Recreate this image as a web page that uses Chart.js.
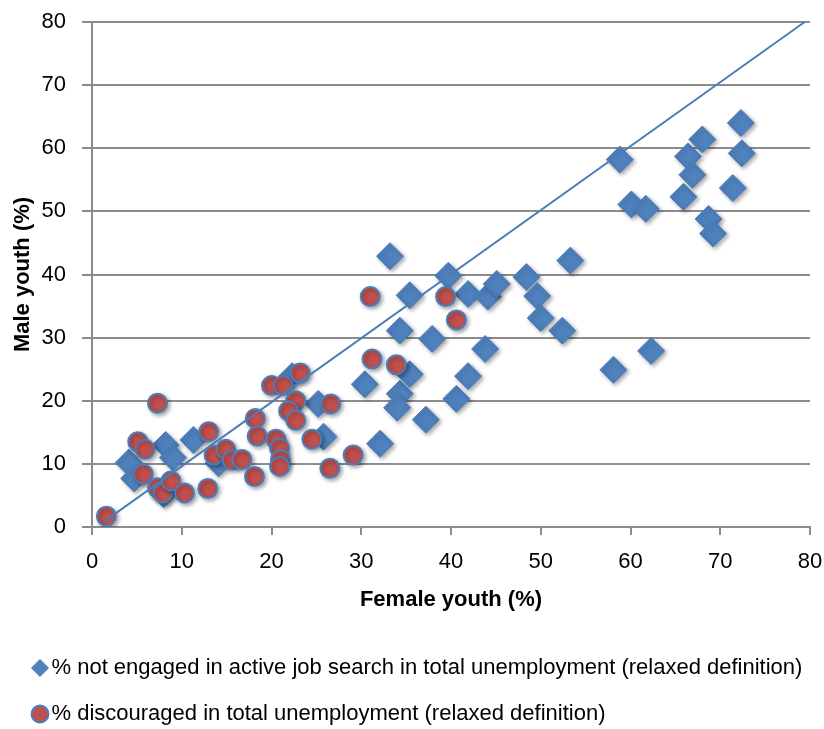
<!DOCTYPE html>
<html>
<head>
<meta charset="utf-8">
<script src="https://cdn.jsdelivr.net/npm/chart.js@4.4.1/dist/chart.umd.min.js"></script>
<style>
  html, body { margin: 0; padding: 0; background: #fff; }
  #wrap { width: 824px; height: 729px; }
</style>
</head>
<body>
<div id="wrap"><canvas id="youthChart" width="824" height="729"></canvas></div>
<script>
// --- data (female %, male %) ---
const notEngagedX = [4.1, 4.7, 8.2, 9.0, 8.0, 11.3, 14.1, 22.3, 25.2, 25.8, 30.4, 32.1, 33.2, 34.3, 34.3,
    34.0, 35.4, 35.4, 37.2, 37.9, 39.7, 40.6, 41.9, 41.9, 43.8, 44.1, 45.1, 48.4, 49.6, 50.0, 52.4, 53.3,
    58.1, 58.8, 60.1, 61.7, 62.3, 65.9, 66.4, 66.9, 68.0, 68.7, 69.2, 71.4, 72.3, 72.4];
const notEngagedY = [10.2, 7.7, 13.0, 11.0, 5.2, 13.8, 10.1, 23.9, 19.5, 14.3, 22.6, 13.2, 42.9, 31.1, 21.1,
    18.9, 36.7, 24.2, 17.0, 29.8, 39.8, 20.3, 36.9, 23.9, 28.2, 36.5, 38.5, 39.6, 36.6, 33.1, 31.1, 42.2,
    24.9, 58.2, 51.1, 50.4, 27.9, 52.3, 58.7, 55.8, 61.4, 48.8, 46.5, 53.7, 64.0, 59.2];

const discouragedX = [1.6, 5.1, 5.9, 5.7, 7.3, 7.3, 7.9, 8.8, 10.3, 12.9, 13.0, 13.6, 14.9, 15.6, 16.7,
    18.1, 18.2, 18.4, 20.0, 21.3, 23.2, 22.7, 21.9, 22.7, 20.5, 20.9, 21.0, 20.9, 24.5, 26.6, 26.5, 29.1,
    31.0, 31.2, 33.9, 39.4, 40.6];
const discouragedY = [1.7, 13.5, 12.3, 8.4, 19.6, 6.2, 5.4, 7.3, 5.4, 6.1, 15.1, 11.4, 12.3, 10.6, 10.7,
    8.0, 17.2, 14.4, 22.4, 22.4, 24.4, 20.0, 18.4, 16.9, 13.9, 12.5, 10.7, 9.6, 13.9, 19.5, 9.3, 11.4,
    36.5, 26.6, 25.7, 36.5, 32.8];

// equality line
const refLineX = [1.5, 79.4];
const refLineY = [1.0, 80];

const axisTicks = [0, 10, 20, 30, 40, 50, 60, 70, 80];

const seriesLabels = [
    '% not engaged in active job search in total unemployment (relaxed definition)',
    '% discouraged in total unemployment (relaxed definition)'
];

function toPoints(xs, ys) {
    return xs.map((x, i) => ({ x: x, y: ys[i] }));
}

const textFont = "'Liberation Sans', Arial, sans-serif";
const gridGrey = '#8c8c8c';

// soft shadow under the markers
const markerShadow = {
    id: 'markerShadow',
    beforeDatasetDraw(chart, args) {
        if (args.meta.type === 'line') return;
        const ctx = chart.ctx;
        ctx.save();
        ctx.shadowColor = 'rgba(0,0,0,0.35)';
        ctx.shadowBlur = 4;
        ctx.shadowOffsetX = 2;
        ctx.shadowOffsetY = 2;
    },
    afterDatasetDraw(chart, args) {
        if (args.meta.type === 'line') return;
        chart.ctx.restore();
    }
};

const ctx = document.getElementById('youthChart');

new Chart(ctx, {
    type: 'scatter',
    data: {
        datasets: [
            {
                label: seriesLabels[0],
                data: toPoints(notEngagedX, notEngagedY),
                pointStyle: 'rectRot',
                pointRadius: 13.5,
                pointHoverRadius: 13.5,
                backgroundColor: '#4f81bd',
                borderColor: '#4a7ebb',
                borderWidth: 1,
                order: 3
            },
            {
                label: seriesLabels[1],
                data: toPoints(discouragedX, discouragedY),
                pointStyle: 'circle',
                pointRadius: 9.5,
                pointHoverRadius: 9.5,
                backgroundColor: '#c0504d',
                borderColor: '#4a7ebb',
                borderWidth: 2,
                order: 2
            },
            {
                type: 'line',
                label: 'equality',
                data: toPoints(refLineX, refLineY),
                borderColor: '#4a7ebb',
                borderWidth: 2,
                pointRadius: 0,
                fill: false,
                tension: 0,
                clip: false,
                order: 1
            }
        ]
    },
    options: {
        responsive: false,
        animation: false,
        layout: {
            autoPadding: false,
            padding: { left: 15.5, right: 14, top: 22, bottom: -6 }
        },
        plugins: {
            tooltip: { enabled: false },
            legend: {
                position: 'bottom',
                align: 'start',
                labels: {
                    usePointStyle: true,
                    boxWidth: 1,
                    boxHeight: 12,
                    padding: 24,
                    color: '#000',
                    font: { family: textFont, size: 22 },
                    filter: item => item.datasetIndex < 2,
                    sort: (a, b) => a.datasetIndex - b.datasetIndex
                }
            }
        },
        scales: {
            x: {
                type: 'linear',
                min: 0,
                max: 80,
                afterBuildTicks: s => { s.ticks = axisTicks.map(v => ({ value: v })); },
                afterFit: s => {
                    s.height = 106;
                    s.paddingLeft = 0;
                    s.paddingRight = 0;
                },
                ticks: {
                    color: '#000',
                    padding: 14,
                    font: { family: textFont, size: 22 }
                },
                grid: {
                    drawOnChartArea: false,
                    drawTicks: true,
                    tickLength: 8,
                    color: gridGrey,
                    lineWidth: 2
                },
                border: { display: true, color: gridGrey, width: 2 },
                title: {
                    display: true,
                    text: 'Female youth (%)',
                    color: '#000',
                    padding: { top: 0, bottom: 20 },
                    font: { family: textFont, size: 22, weight: 'bold' }
                }
            },
            y: {
                type: 'linear',
                min: 0,
                max: 80,
                afterBuildTicks: s => { s.ticks = axisTicks.map(v => ({ value: v })); },
                afterFit: s => {
                    s.width = 76.5;
                    s.paddingTop = 0;
                    s.paddingBottom = 0;
                },
                ticks: {
                    color: '#000',
                    padding: 16,
                    font: { family: textFont, size: 22 }
                },
                grid: {
                    drawTicks: true,
                    tickLength: 10,
                    color: gridGrey,
                    lineWidth: 2
                },
                border: { display: true, color: gridGrey, width: 2 },
                title: {
                    display: true,
                    text: 'Male youth (%)',
                    color: '#000',
                    padding: { top: -6.2, bottom: 0 },
                    font: { family: textFont, size: 22, weight: 'bold' }
                }
            }
        }
    },
    plugins: [markerShadow]
});
</script>
</body>
</html>
